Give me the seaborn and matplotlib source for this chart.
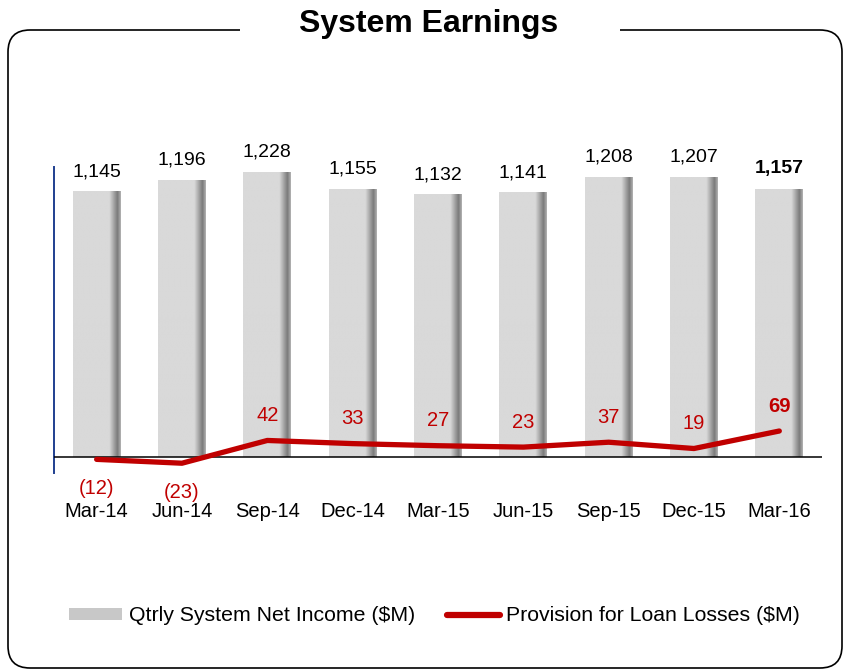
import matplotlib
matplotlib.use('Agg')
import matplotlib.pyplot as plt
import seaborn as sns
import pandas as pd
import numpy as np
from matplotlib.patches import FancyBboxPatch, Rectangle, Patch
from matplotlib.lines import Line2D
from matplotlib.transforms import IdentityTransform

# data
quarters = ['Mar-14', 'Jun-14', 'Sep-14', 'Dec-14', 'Mar-15',
            'Jun-15', 'Sep-15', 'Dec-15', 'Mar-16']
net_income = [1145, 1196, 1228, 1155, 1132, 1141, 1208, 1207, 1157]
provision = [-12, -23, 42, 33, 27, 23, 37, 19, 69]

df = pd.DataFrame({'Quarter': quarters, 'Income': net_income,
                   'Provision': provision, 'pos': range(len(quarters))})

sns.set_style('white')
plt.rcParams['font.family'] = ['Liberation Sans', 'DejaVu Sans']
plt.rcParams['text.color'] = 'black'
plt.rcParams['xtick.color'] = 'black'

red = '#c00000'
fig = plt.figure(figsize=(8.46, 6.7), dpi=100)
ax = fig.add_axes([0.0638, 0.2940, 0.9078, 0.4567])

sns.barplot(data=df, x='Quarter', y='Income', color='#d9d9d9', width=0.56,
            saturation=1, linewidth=0, ax=ax)

# gradient shading on the right edge of each bar
t = np.linspace(0, 1, 200)
shade = np.where(t < 0.76, 0.85,
                 np.where(t < 0.93, 0.85 - (t - 0.76) / 0.17 * 0.37,
                          0.48 + (t - 0.93) / 0.07 * 0.22))
grad = shade[np.newaxis, :]
for p in list(ax.patches):
    x0, y0 = p.get_x(), p.get_y()
    w, h = p.get_width(), p.get_height()
    im = ax.imshow(grad, extent=(x0, x0 + w, y0, y0 + h), aspect='auto',
                   cmap='gray', vmin=0, vmax=1, zorder=p.get_zorder() + 0.1)
    im.set_clip_path(p)

ax.axhline(0, color='black', lw=1.1, zorder=3)
for side in ['top', 'right', 'bottom']:
    ax.spines[side].set_visible(False)
ax.spines['left'].set_color('#1f3f8f')
ax.spines['left'].set_linewidth(1.4)
ax.set_yticks([])
ax.set_xlabel('')
ax.set_ylabel('')
ax.tick_params(axis='x', length=0, pad=21, labelsize=14.5, colors='black')

last = len(quarters) - 1
for i, v in enumerate(net_income):
    ax.annotate(f'{v:,}', (i, v), xytext=(0, 11), textcoords='offset points',
                ha='center', va='baseline', fontsize=14,
                fontweight='bold' if i == last else 'normal')

ax2 = ax.twinx()
sns.lineplot(data=df, x='pos', y='Provision', color=red, lw=3.8,
             solid_capstyle='round', ax=ax2)
for side in ['top', 'right', 'bottom', 'left']:
    ax2.spines[side].set_visible(False)
ax2.set_yticks([])
ax2.set_ylabel('')
ax2.set_ylim(-51, 823)

for i, v in enumerate(provision):
    lab = f'({-v})' if v < 0 else str(v)
    if v >= 0:
        ax2.annotate(lab, (i, v), xytext=(0, 14), textcoords='offset points',
                     ha='center', va='baseline', fontsize=14.5, color=red,
                     fontweight='bold' if i == last else 'normal')
    else:
        ax2.annotate(lab, (i, v), xytext=(0, -14), textcoords='offset points',
                     ha='center', va='top', fontsize=14.5, color=red)

ax.set_xlim(-0.5, 8.5)
ax.set_ylim(-69, 1250)

handles = [Patch(facecolor='#c8c8c8', edgecolor='none'),
           Line2D([], [], color=red, lw=4.5, solid_capstyle='round')]
fig.legend(handles=handles,
           labels=['Qtrly System Net Income ($M)', 'Provision for Loan Losses ($M)'],
           loc='center', bbox_to_anchor=(0.5136, 0.0806), ncol=2, frameon=False,
           fontsize=15.3, handlelength=2.5, handleheight=0.55,
           handletextpad=0.3, columnspacing=1.5)

# rounded frame with the title breaking the top edge
box = FancyBboxPatch((8, 2), 834, 638, boxstyle='round,pad=0,rounding_size=22',
                     transform=IdentityTransform(), fill=False, ec='black',
                     lw=1.2, zorder=1)
fig.add_artist(box)
gap = Rectangle((240, 630), 380, 20, transform=IdentityTransform(),
                fc='white', ec='none', zorder=2)
fig.add_artist(gap)
fig.text(0.5065, 1 - 24 / 670, 'System Earnings', ha='center', va='center',
         fontsize=23, fontweight='bold', zorder=3)

fig.savefig('out.png', dpi=100)
